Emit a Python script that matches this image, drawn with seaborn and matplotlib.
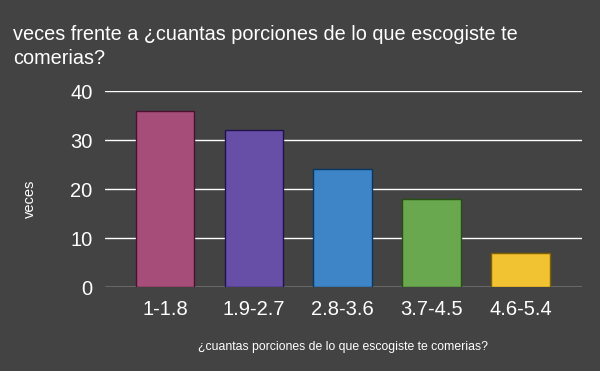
import matplotlib

matplotlib.use("Agg")
import matplotlib.pyplot as plt
import pandas as pd
import seaborn as sns

categories = ["1-1.8", "1.9-2.7", "2.8-3.6", "3.7-4.5", "4.6-5.4"]
veces = [36, 32, 24, 18, 7]
fill_colors = ["#a64d79", "#674ea7", "#3d85c6", "#6aa84f", "#f1c232"]
edge_colors = ["#4c1130", "#20124d", "#073763", "#274e13", "#7f6000"]
y_ticks = [0, 10, 20, 30, 40]

BG = "#434343"

sns.set_theme(style="dark")
plt.rcParams["font.family"] = ["Liberation Sans", "DejaVu Sans"]

df = pd.DataFrame({"rango": categories, "veces": veces})

fig = plt.figure(figsize=(6, 3.71), dpi=100, facecolor=BG)
ax = fig.add_axes([0.175, 0.2264, 0.795, 0.5283])
ax.set_facecolor(BG)

sns.barplot(
    data=df,
    x="rango",
    y="veces",
    hue="rango",
    palette=fill_colors,
    saturation=1,
    legend=False,
    width=0.66,
    linewidth=1,
    zorder=3,
    ax=ax,
)
for patch, ec in zip(ax.patches, edge_colors):
    patch.set_edgecolor(ec)

ax.set_xlim(-0.674, 4.69)
ax.set_ylim(0, 40)
ax.set_yticks(y_ticks)
ax.grid(axis="y", color="white", linewidth=1, zorder=0)
ax.grid(axis="x", visible=False)
for side in ax.spines.values():
    side.set_visible(False)

ax.tick_params(axis="y", colors="white", labelsize=14.5, length=0, pad=9)
ax.tick_params(axis="x", colors="white", labelsize=14.5, length=0, pad=9)

ax.set_ylabel("veces", color="white", fontsize=10.5)
ax.yaxis.set_label_coords(-0.143, 0.45)
ax.set_xlabel(
    "¿cuantas porciones de lo que escogiste te comerias?",
    color="white",
    fontsize=8.8,
    labelpad=16,
)

fig.text(
    0.022,
    0.932,
    "veces frente a ¿cuantas porciones de lo que escogiste te\ncomerias?",
    color="white",
    fontsize=14.3,
    va="top",
    ha="left",
    linespacing=1.3,
)

fig.savefig("out.png", dpi=100, facecolor=BG)
